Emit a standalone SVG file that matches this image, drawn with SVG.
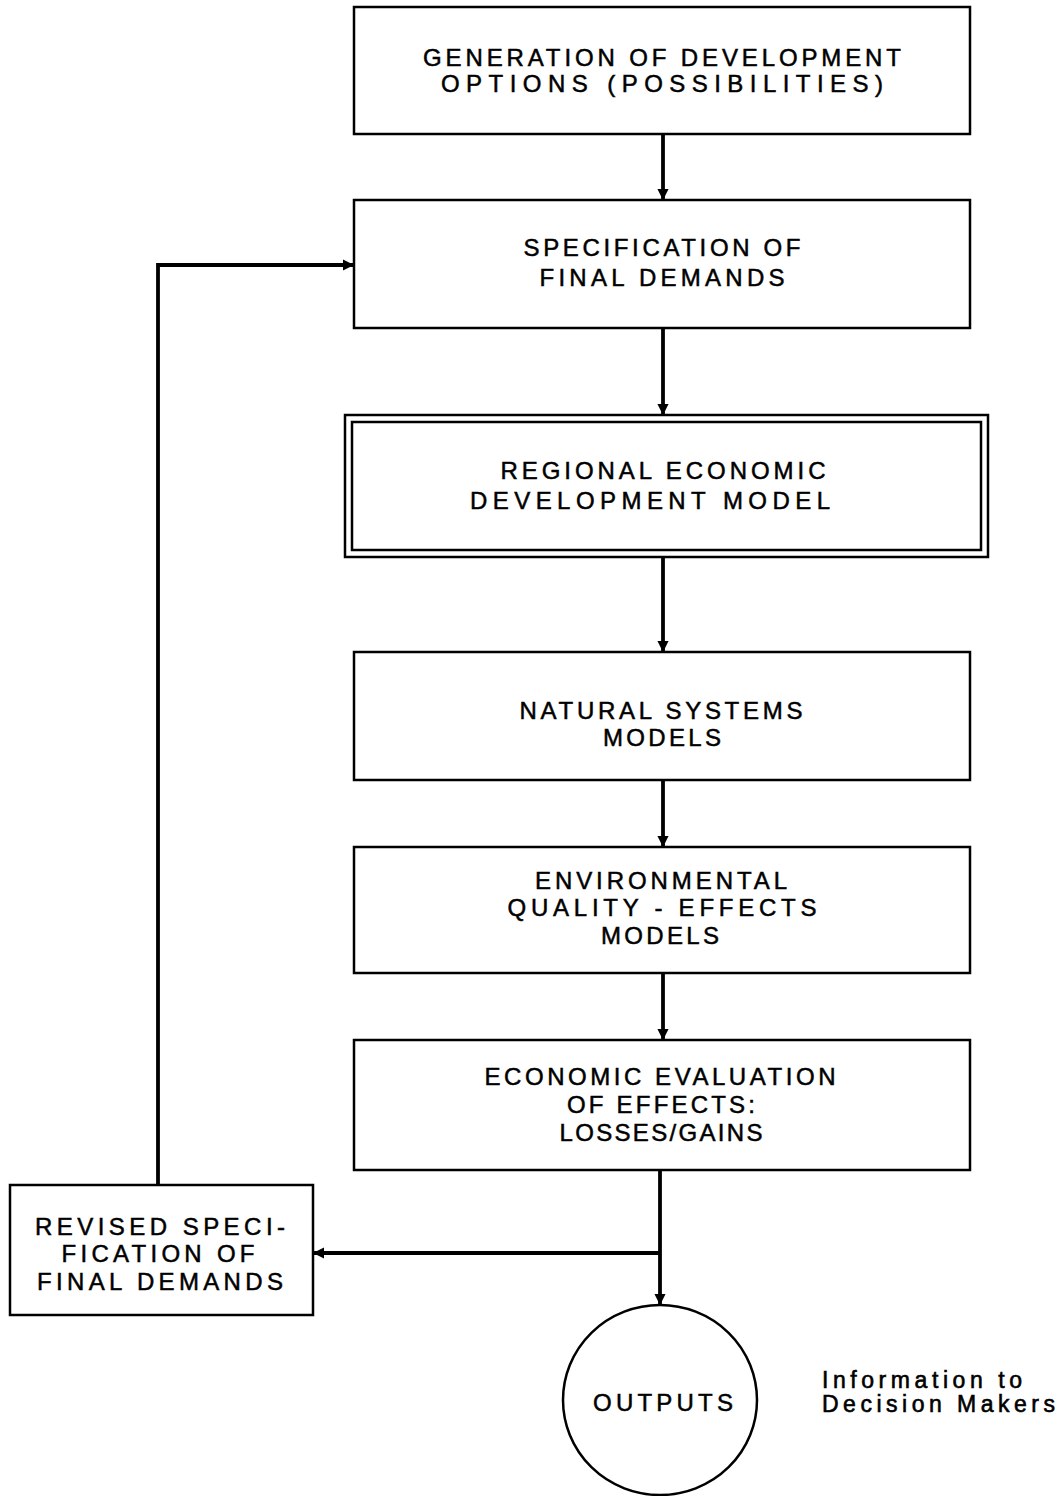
<svg xmlns="http://www.w3.org/2000/svg" width="1059" height="1496" viewBox="0 0 1059 1496">
<defs>
<marker id="ah" viewBox="0 0 10 10" refX="9" refY="5" markerWidth="3" markerHeight="3" orient="auto" markerUnits="strokeWidth">
<path d="M0,0 L10,5 L0,10 z" fill="#000"/>
</marker>
</defs>
<style>
.box{fill:#fff;stroke:#000;stroke-width:2.5}
.t{font-family:"Liberation Sans",Arial,sans-serif;font-size:24px;text-anchor:middle;fill:#000;stroke:#000;stroke-width:0.5}
.s{font-family:"Liberation Sans",Arial,sans-serif;font-size:23px;fill:#000;stroke:#000;stroke-width:0.6}
.c{fill:none;stroke:#000;stroke-width:3.8}
</style>
<rect width="1059" height="1496" fill="#fff"/>
<g id="connectors">
<line class="c" x1="663" y1="134" x2="663" y2="199" marker-end="url(#ah)"/>
<line class="c" x1="663" y1="328" x2="663" y2="414" marker-end="url(#ah)"/>
<line class="c" x1="663" y1="557" x2="663" y2="651" marker-end="url(#ah)"/>
<line class="c" x1="663" y1="780" x2="663" y2="846" marker-end="url(#ah)"/>
<line class="c" x1="663" y1="973" x2="663" y2="1039" marker-end="url(#ah)"/>
<line class="c" x1="660" y1="1170" x2="660" y2="1304" marker-end="url(#ah)"/>
<line class="c" x1="660" y1="1253" x2="314" y2="1253" marker-end="url(#ah)"/>
<polyline class="c" points="158,1185 158,265 353,265" marker-end="url(#ah)"/>
</g>
<g id="n1">
<rect class="box" x="354" y="7" width="616" height="127"/>
<text class="t" x="662" y="66" textLength="478" lengthAdjust="spacing">GENERATION OF DEVELOPMENT</text>
<text class="t" x="662" y="92" textLength="442" lengthAdjust="spacing">OPTIONS (POSSIBILITIES)</text>
</g>
<g id="n2">
<rect class="box" x="354" y="200" width="616" height="128"/>
<text class="t" x="662" y="256" textLength="277" lengthAdjust="spacing">SPECIFICATION OF</text>
<text class="t" x="662" y="286" textLength="245" lengthAdjust="spacing">FINAL DEMANDS</text>
</g>
<g id="n3">
<rect class="box" x="345" y="415" width="643" height="142"/>
<rect class="box" x="352" y="422" width="629" height="128"/>
<text class="t" x="663" y="479" textLength="325" lengthAdjust="spacing">REGIONAL ECONOMIC</text>
<text class="t" x="650" y="509" textLength="360" lengthAdjust="spacing">DEVELOPMENT MODEL</text>
</g>
<g id="n4">
<rect class="box" x="354" y="652" width="616" height="128"/>
<text class="t" x="661" y="719" textLength="283" lengthAdjust="spacing">NATURAL SYSTEMS</text>
<text class="t" x="662" y="746" textLength="118" lengthAdjust="spacing">MODELS</text>
</g>
<g id="n5">
<rect class="box" x="354" y="847" width="616" height="126"/>
<text class="t" x="661" y="889" textLength="252" lengthAdjust="spacing">ENVIRONMENTAL</text>
<text class="t" x="662" y="916" textLength="309" lengthAdjust="spacing">QUALITY - EFFECTS</text>
<text class="t" x="660" y="944" textLength="118" lengthAdjust="spacing">MODELS</text>
</g>
<g id="n6">
<rect class="box" x="354" y="1040" width="616" height="130"/>
<text class="t" x="660" y="1085" textLength="351" lengthAdjust="spacing">ECONOMIC EVALUATION</text>
<text class="t" x="661" y="1113" textLength="188" lengthAdjust="spacing">OF EFFECTS:</text>
<text class="t" x="661" y="1141" textLength="203" lengthAdjust="spacing">LOSSES/GAINS</text>
</g>
<g id="n7">
<rect class="box" x="10" y="1185" width="303" height="130"/>
<text class="t" x="160" y="1235" textLength="250" lengthAdjust="spacing">REVISED SPECI-</text>
<text class="t" x="158" y="1262" textLength="193" lengthAdjust="spacing">FICATION OF</text>
<text class="t" x="160" y="1290" textLength="246" lengthAdjust="spacing">FINAL DEMANDS</text>
</g>
<g id="n8">
<ellipse cx="660" cy="1400" rx="97" ry="95" fill="#fff" stroke="#000" stroke-width="2.5"/>
<text class="t" x="663" y="1411" textLength="140" lengthAdjust="spacing">OUTPUTS</text>
</g>
<g id="note">
<text class="s" x="822" y="1388" textLength="200" lengthAdjust="spacing">Information to</text>
<text class="s" x="822" y="1412" textLength="233" lengthAdjust="spacing">Decision Makers</text>
</g>
</svg>
